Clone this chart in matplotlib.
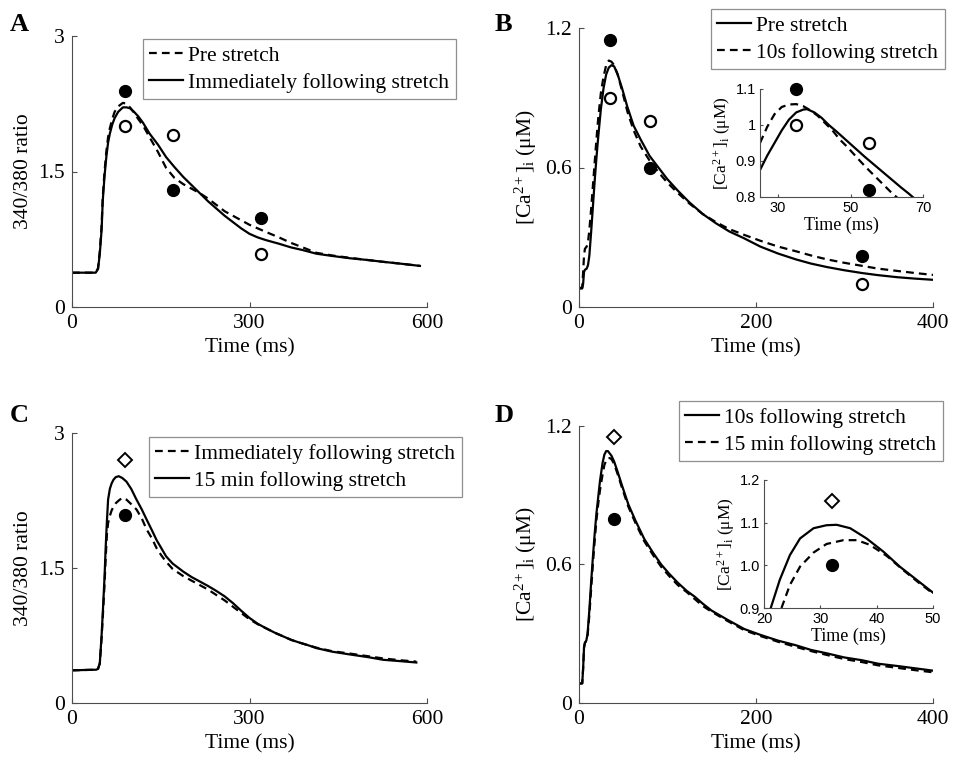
import matplotlib
matplotlib.use('Agg')
import matplotlib.pyplot as plt

plt.rcParams['font.family'] = ['Liberation Serif', 'DejaVu Serif']
plt.rcParams['mathtext.fontset'] = 'custom'
plt.rcParams['mathtext.rm'] = 'Liberation Serif'
plt.rcParams['mathtext.it'] = 'Liberation Serif:italic'
plt.rcParams['mathtext.bf'] = 'Liberation Serif:bold'

# ---------------- Panel A ----------------
tA = [0, 40, 44, 47, 50, 52, 55, 58, 61, 64, 68, 72, 78, 86, 92, 98, 105, 112, 120, 131, 145, 159,
      173, 188, 202, 216, 230, 244, 258, 272, 286, 300, 314, 328, 350, 370, 390, 413, 440, 469,
      500, 526, 555, 588]
A_immediate = [0.38, 0.38, 0.42, 0.59, 0.85, 1.18, 1.45, 1.66, 1.82, 1.92, 2.02, 2.09, 2.16, 2.21,
               2.21, 2.20, 2.16, 2.11, 2.04, 1.92, 1.80, 1.66, 1.55, 1.44, 1.35, 1.26, 1.17, 1.09,
               1.01, 0.94, 0.87, 0.81, 0.77, 0.74, 0.70, 0.66, 0.63, 0.59, 0.565, 0.54, 0.52, 0.50,
               0.48, 0.455]
A_pre = [0.38, 0.38, 0.43, 0.62, 0.90, 1.22, 1.50, 1.72, 1.88, 1.98, 2.08, 2.16, 2.22, 2.26, 2.25,
         2.21, 2.15, 2.08, 2.01, 1.88, 1.72, 1.54, 1.43, 1.36, 1.31, 1.26, 1.20, 1.13, 1.06, 1.01,
         0.96, 0.91, 0.87, 0.83, 0.77, 0.71, 0.66, 0.60, 0.57, 0.545, 0.52, 0.50, 0.48, 0.455]
tA_pts = [90, 170, 320]
A_filled = [2.39, 1.29, 0.99]
A_open = [2.00, 1.90, 0.59]

# ---------------- Panel B ----------------
tB = [0, 4, 5, 6, 7, 9, 10.5, 12, 14, 16, 18, 20, 22, 25, 28, 31, 34, 37, 40, 44, 49, 55, 62, 70,
      80, 90, 100, 112, 125, 140, 155, 170, 187, 205, 225, 245, 262, 280, 300, 320, 338, 360, 380, 400]
B_pre = [0.079, 0.08, 0.10, 0.15, 0.16, 0.165, 0.18, 0.22, 0.32, 0.43, 0.54, 0.64, 0.73, 0.85,
         0.94, 1.00, 1.03, 1.04, 1.035, 1.00, 0.94, 0.86, 0.78, 0.72, 0.65, 0.60, 0.55, 0.50,
         0.45, 0.40, 0.36, 0.325, 0.295, 0.26, 0.23, 0.205, 0.187, 0.172, 0.158, 0.146, 0.137,
         0.128, 0.122, 0.117]
B_10s = [0.079, 0.085, 0.15, 0.22, 0.25, 0.26, 0.28, 0.33, 0.42, 0.52, 0.62, 0.72, 0.81, 0.92,
         0.99, 1.04, 1.06, 1.055, 1.04, 1.00, 0.93, 0.84, 0.76, 0.69, 0.63, 0.58, 0.535, 0.49,
         0.445, 0.40, 0.365, 0.335, 0.31, 0.285, 0.26, 0.24, 0.222, 0.205, 0.19, 0.177, 0.165,
         0.155, 0.146, 0.138]
tB_pts = [35, 80, 320]
B_filled = [1.15, 0.60, 0.22]
B_open = [0.90, 0.80, 0.10]

# Panel B inset
tBi_pre = [25, 27, 29, 31, 33, 35, 37, 38, 40, 42, 44, 46, 48, 50, 52, 54, 56, 58, 60, 62, 64, 66, 67.5]
Bi_pre = [0.875, 0.915, 0.95, 0.985, 1.015, 1.035, 1.043, 1.044, 1.035, 1.02, 1.00, 0.983, 0.965,
          0.947, 0.929, 0.911, 0.894, 0.877, 0.86, 0.843, 0.826, 0.81, 0.797]
tBi_10s = [25, 27, 29, 31, 33, 35, 37, 39, 41, 43, 45, 47, 49, 51, 53, 55, 57, 59, 61, 63]
Bi_10s = [0.95, 0.995, 1.03, 1.05, 1.057, 1.058, 1.052, 1.04, 1.025, 1.005, 0.985, 0.96, 0.94,
          0.918, 0.896, 0.875, 0.855, 0.835, 0.815, 0.797]
tBi_pts = [35, 55]
Bi_filled = [1.10, 0.82]
Bi_open = [1.00, 0.95]

# ---------------- Panel C ----------------
tC = [0, 41, 44, 47, 50, 52, 55, 57, 59, 61, 64, 67, 70, 74, 79, 85, 92, 100, 109, 118, 126, 135,
      143, 151, 159, 170, 188, 202, 216, 230, 244, 258, 272, 286, 300, 314, 328, 343, 357, 371,
      385, 400, 413, 440, 469, 500, 526, 555, 582]
C_15min = [0.363, 0.37, 0.38, 0.44, 0.75, 1.00, 1.40, 1.74, 2.02, 2.26, 2.38, 2.44, 2.48, 2.51,
           2.52, 2.50, 2.46, 2.38, 2.26, 2.15, 2.04, 1.92, 1.81, 1.72, 1.63, 1.55, 1.46, 1.40,
           1.35, 1.30, 1.245, 1.185, 1.11, 1.025, 0.945, 0.88, 0.83, 0.78, 0.74, 0.70, 0.67, 0.64,
           0.61, 0.57, 0.54, 0.51, 0.48, 0.465, 0.45]
C_immediate = [0.363, 0.37, 0.38, 0.44, 0.72, 0.95, 1.32, 1.62, 1.87, 2.00, 2.08, 2.14, 2.18, 2.22,
               2.25, 2.28, 2.26, 2.21, 2.15, 2.05, 1.93, 1.83, 1.72, 1.64, 1.57, 1.49, 1.41, 1.36,
               1.31, 1.26, 1.20, 1.14, 1.07, 1.00, 0.93, 0.875, 0.83, 0.78, 0.74, 0.70, 0.67,
               0.64, 0.615, 0.575, 0.55, 0.52, 0.495, 0.475, 0.46]
tC_pts = [90]
C_diamond = [2.70]
C_filled = [2.09]

# ---------------- Panel D ----------------
tD = [0, 4, 5, 6, 7, 8.6, 10, 12, 14, 16, 18, 20, 22, 24, 27, 29, 31, 33, 35, 37, 40, 44, 49, 56,
      64, 74, 84, 93, 102, 112, 122, 131, 140, 150, 168, 187, 205, 225, 245, 262, 280, 300, 320,
      338, 360, 380, 400]
D_10s = [0.084, 0.085, 0.15, 0.24, 0.26, 0.27, 0.30, 0.40, 0.52, 0.63, 0.73, 0.82, 0.89, 0.96,
         1.04, 1.075, 1.09, 1.09, 1.08, 1.07, 1.045, 1.00, 0.94, 0.86, 0.79, 0.71, 0.65, 0.60,
         0.56, 0.52, 0.485, 0.46, 0.43, 0.40, 0.36, 0.32, 0.295, 0.27, 0.25, 0.23, 0.215, 0.197,
         0.185, 0.17, 0.16, 0.15, 0.14]
D_15min = [0.084, 0.085, 0.15, 0.24, 0.26, 0.27, 0.29, 0.38, 0.49, 0.60, 0.70, 0.79, 0.86, 0.92,
           0.99, 1.03, 1.05, 1.06, 1.06, 1.055, 1.035, 0.99, 0.93, 0.85, 0.78, 0.70, 0.64, 0.59,
           0.55, 0.51, 0.48, 0.45, 0.42, 0.395, 0.355, 0.315, 0.29, 0.265, 0.243, 0.225, 0.208,
           0.19, 0.177, 0.163, 0.152, 0.142, 0.133]
tD_pts = [40]
D_diamond = [1.15]
D_filled = [0.795]

# Panel D inset
tDi_10s = [21.2, 22.8, 24.6, 26.4, 28.8, 31.1, 32.9, 35.3, 38.2, 41.2, 44.1, 47.1, 50]
Di_10s = [0.90, 0.966, 1.024, 1.063, 1.087, 1.094, 1.095, 1.087, 1.063, 1.032, 0.997, 0.966, 0.936]
tDi_15min = [23.1, 24.6, 26.4, 28.8, 31.1, 34.1, 36.5, 38.8, 41.8, 44.7, 47.6, 50]
Di_15min = [0.90, 0.954, 0.997, 1.030, 1.05, 1.059, 1.059, 1.048, 1.022, 0.989, 0.958, 0.934]
tDi_pts = [32]
Di_diamond = [1.15]
Di_filled = [1.00]

# ---------------- Drawing ----------------
W, H = 956, 764
fig = plt.figure(figsize=(W / 100, H / 100), dpi=100)

FS = 15.5
LW = 1.6
DASH = (0, (3.5, 2.3))
ca_label = '[Ca$^{2+}$]$_\\mathrm{i}$ (μM)'


def px_axes(left, top, right, bottom):
    return fig.add_axes([left / W, 1 - bottom / H, (right - left) / W, (bottom - top) / H])


def style(ax, fs=FS, length=3.5):
    for s in ('top', 'right'):
        ax.spines[s].set_visible(False)
    for s in ('left', 'bottom'):
        ax.spines[s].set_linewidth(0.8)
        ax.spines[s].set_color('0.3')
    ax.tick_params(direction='in', length=length, width=0.8, color='0.3',
                   labelsize=fs, pad=5)
    ax.patch.set_alpha(0)


def legend(ax, handles, labels, left, top):
    leg = fig.legend(handles, labels, loc='upper left',
                     bbox_to_anchor=(left / W, 1 - top / H), bbox_transform=fig.transFigure,
                     fontsize=FS, frameon=True, fancybox=False, handlelength=1.55,
                     handletextpad=0.25, labelspacing=0.34, borderpad=0.3, borderaxespad=0)
    leg.get_frame().set_edgecolor('0.45')
    leg.get_frame().set_linewidth(0.9)
    return leg


filled_kw = dict(linestyle='none', marker='o', markersize=8.5, markerfacecolor='black',
                 markeredgecolor='black')
open_kw = dict(linestyle='none', marker='o', markersize=8, markerfacecolor='white',
               markeredgecolor='black', markeredgewidth=1.6)
diamond_kw = dict(linestyle='none', marker='D', markersize=7.5, markerfacecolor='white',
                  markeredgecolor='black', markeredgewidth=1.4)

# Panel A
axA = px_axes(72, 36, 427, 307)
hA1, = axA.plot(tA, A_pre, color='black', lw=LW, linestyle=DASH)
hA2, = axA.plot(tA, A_immediate, color='black', lw=LW)
axA.plot(tA_pts, A_filled, **filled_kw)
axA.plot(tA_pts, A_open, **open_kw)
axA.set_xlim(0, 600)
axA.set_ylim(0, 3)
axA.set_xticks([0, 300, 600])
axA.set_yticks([0, 1.5, 3], ['0', '1.5', '3'])
style(axA)
axA.set_xlabel('Time (ms)', fontsize=FS)
axA.set_ylabel('340/380 ratio', fontsize=FS)
legend(axA, [hA1, hA2], ['Pre stretch', 'Immediately following stretch'], 143, 39)

# Panel B
axB = px_axes(578.7, 28, 933, 307)
hB1, = axB.plot(tB, B_pre, color='black', lw=LW)
hB2, = axB.plot(tB, B_10s, color='black', lw=LW, linestyle=DASH)
axB.plot(tB_pts, B_filled, **filled_kw)
axB.plot(tB_pts, B_open, **open_kw)
axB.set_xlim(0, 400)
axB.set_ylim(0, 1.2)
axB.set_xticks([0, 200, 400])
axB.set_yticks([0, 0.6, 1.2], ['0', '0.6', '1.2'])
style(axB)
axB.set_xlabel('Time (ms)', fontsize=FS)
axB.set_ylabel(ca_label, fontsize=FS)
legend(axB, [hB1, hB2], ['Pre stretch', '10s following stretch'], 711, 9)

# Panel B inset
axBi = px_axes(760, 89, 923, 197)
axBi.plot(tBi_pre, Bi_pre, color='black', lw=LW)
axBi.plot(tBi_10s, Bi_10s, color='black', lw=LW, linestyle=DASH)
axBi.plot(tBi_pts, Bi_filled, clip_on=False, **filled_kw)
axBi.plot(tBi_pts, Bi_open, clip_on=False, **open_kw)
axBi.set_xlim(25, 70)
axBi.set_ylim(0.8, 1.1)
style(axBi, fs=10, length=2.5)
axBi.patch.set_alpha(1)
axBi.patch.set_facecolor('white')
axBi.set_xticks([30, 50, 70], ['30', '50', '70'], fontfamily='Liberation Sans', fontsize=10.5)
axBi.set_yticks([0.8, 0.9, 1.0, 1.1], ['0.8', '0.9', '1', '1.1'], fontfamily='Liberation Sans',
                fontsize=10.5)
axBi.tick_params(pad=3)
axBi.set_xlabel('Time (ms)', fontsize=13, labelpad=1)
axBi.set_ylabel(ca_label, fontsize=12.5, labelpad=2)

# Panel C
axC = px_axes(72, 433, 427, 703)
hC1, = axC.plot(tC, C_immediate, color='black', lw=LW, linestyle=DASH)
hC2, = axC.plot(tC, C_15min, color='black', lw=LW)
axC.plot(tC_pts, C_diamond, **diamond_kw)
axC.plot(tC_pts, C_filled, **filled_kw)
axC.set_xlim(0, 600)
axC.set_ylim(0, 3)
axC.set_xticks([0, 300, 600])
axC.set_yticks([0, 1.5, 3], ['0', '1.5', '3'])
style(axC)
axC.set_xlabel('Time (ms)', fontsize=FS)
axC.set_ylabel('340/380 ratio', fontsize=FS)
legend(axC, [hC1, hC2], ['Immediately following stretch', '15 min following stretch'], 149, 437)

# Panel D
axD = px_axes(578.7, 425.7, 933, 703)
hD1, = axD.plot(tD, D_10s, color='black', lw=LW)
hD2, = axD.plot(tD, D_15min, color='black', lw=LW, linestyle=DASH)
axD.plot(tD_pts, D_diamond, **diamond_kw)
axD.plot(tD_pts, D_filled, **filled_kw)
axD.set_xlim(0, 400)
axD.set_ylim(0, 1.2)
axD.set_xticks([0, 200, 400])
axD.set_yticks([0, 0.6, 1.2], ['0', '0.6', '1.2'])
style(axD)
axD.set_xlabel('Time (ms)', fontsize=FS)
axD.set_ylabel(ca_label, fontsize=FS)
legend(axD, [hD1, hD2], ['10s following stretch', '15 min following stretch'], 679, 401)

# Panel D inset
axDi = px_axes(764, 480, 933, 608)
axDi.plot(tDi_10s, Di_10s, color='black', lw=LW)
axDi.plot(tDi_15min, Di_15min, color='black', lw=LW, linestyle=DASH)
axDi.plot(tDi_pts, Di_diamond, **diamond_kw)
axDi.plot(tDi_pts, Di_filled, **filled_kw)
axDi.set_xlim(20, 50)
axDi.set_ylim(0.9, 1.2)
style(axDi, fs=10, length=2.5)
axDi.patch.set_alpha(1)
axDi.patch.set_facecolor('white')
axDi.set_xticks([20, 30, 40, 50], ['20', '30', '40', '50'], fontfamily='Liberation Sans',
                fontsize=10.5)
axDi.set_yticks([0.9, 1.0, 1.1, 1.2], ['0.9', '1.0', '1.1', '1.2'], fontfamily='Liberation Sans',
                fontsize=10.5)
axDi.tick_params(pad=3)
axDi.set_xlabel('Time (ms)', fontsize=13, labelpad=1)
axDi.set_ylabel(ca_label, fontsize=12.5, labelpad=2)

# Panel letters
for letter, x, y in [('A', 10, 31), ('B', 495, 31), ('C', 10, 422), ('D', 495, 422)]:
    fig.text(x / W, 1 - y / H, letter, fontsize=19, fontweight='bold', va='baseline', ha='left')

fig.savefig('out.png', dpi=100)
